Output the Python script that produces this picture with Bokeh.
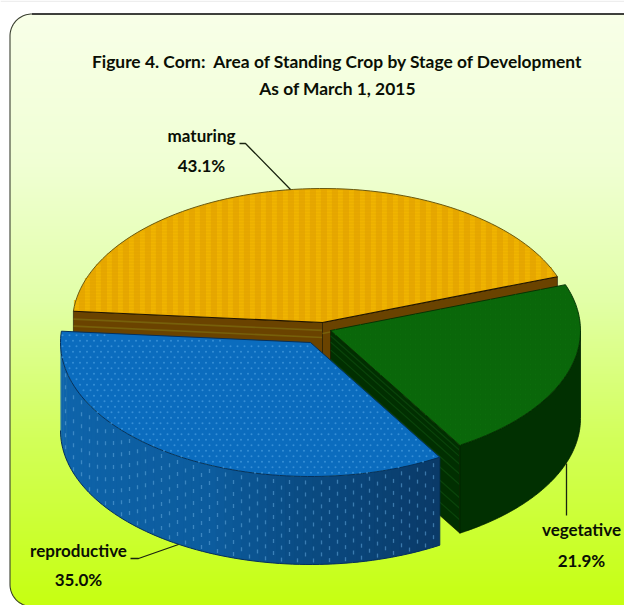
import numpy as np
from bokeh.plotting import figure
from bokeh.embed import file_html
from bokeh.resources import INLINE
from bokeh.core.properties import value

# Survey shares, in percent
stages = ["maturing", "reproductive", "vegetative"]
shares = [43.1, 35.0, 21.9]
title_lines = ["Figure 4. Corn:\u00a0 Area of Standing Crop by Stage of Development",
               "As of March 1, 2015"]

WIDTH, HEIGHT = 624, 605
FONT = value("Lato")

# Projection of the tilted disc, in page pixels (y grows downward)
RX, RY, DEPTH = 250.0, 134.0, 88.0
START_ANGLE = 20.0
CENTRES = {"maturing": (322.0, 322.0), "reproductive": (310.0, 342.0), "vegetative": (330.0, 330.0)}

p = figure(width=WIDTH, height=HEIGHT, x_range=(0, WIDTH), y_range=(HEIGHT, 0),
           output_backend="svg", toolbar_location=None, min_border=0,
           background_fill_color="white", border_fill_color="white")
p.axis.visible = False
p.grid.visible = False
p.outline_line_color = None


def lerp_colour(stops, t):
    ts = [s[0] for s in stops]
    rgb = [np.interp(t, ts, [int(s[1][i:i + 2], 16) for s in stops]) for i in (1, 3, 5)]
    return "#%02x%02x%02x" % tuple(int(round(c)) for c in rgb)


# Panel: rounded card with a vertical gradient
PANEL_L, PANEL_T, PANEL_B, RADIUS = 9.5, 13.5, 606.0, 22.0
GRADIENT = [(0.0, "#f8ffe8"), (0.25, "#f0ffd4"), (0.48, "#e2ffa8"), (0.72, "#d2ff58"), (1.0, "#c6ff10")]


def panel_left(y):
    d = np.maximum(PANEL_T + RADIUS - y, 0) + np.maximum(y - (PANEL_B - RADIUS), 0)
    return PANEL_L + RADIUS - np.sqrt(np.maximum(RADIUS ** 2 - d ** 2, 0))


rows = np.arange(PANEL_T, PANEL_B, 1.0)
p.quad(left=panel_left(rows + 0.5), right=WIDTH + 2, top=rows, bottom=rows + 1.6,
       fill_color=[lerp_colour(GRADIENT, (y - PANEL_T) / (PANEL_B - PANEL_T)) for y in rows],
       line_color=None)
arc_t = np.radians(np.linspace(180, 270, 24))
arc_b = np.radians(np.linspace(90, 180, 24))
p.line(np.concatenate([PANEL_L + RADIUS + RADIUS * np.cos(arc_b), PANEL_L + RADIUS + RADIUS * np.cos(arc_t)]),
       np.concatenate([PANEL_B - RADIUS + RADIUS * np.sin(arc_b), PANEL_T + RADIUS + RADIUS * np.sin(arc_t)]),
       line_color="#3a3f30", line_width=1.1)
p.line([PANEL_L + RADIUS, WIDTH + 2], [PANEL_T, PANEL_T], line_color="#000000", line_width=1.6)
p.quad(left=0, right=WIDTH, top=0, bottom=1.5, fill_color="#eeeeee", line_color=None)

# Slice angles follow from the shares
angles = {}
a = START_ANGLE
for stage, share in zip(stages, shares):
    angles[stage] = (a, a + share * 3.6)
    a += share * 3.6


def rim(stage, a0, a1, n=80):
    cx, cy = CENTRES[stage]
    t = np.radians(np.linspace(a0, a1, n))
    return cx + RX * np.cos(t), cy - RY * np.sin(t)


def top_polygon(stage):
    a0, a1 = angles[stage]
    x, y = rim(stage, a0, a1)
    cx, cy = CENTRES[stage]
    return np.r_[cx, x], np.r_[cy, y]


def inside(px, py, poly_x, poly_y):
    px, py = np.asarray(px), np.asarray(py)
    result = np.zeros(px.shape, bool)
    j = len(poly_x) - 1
    for i in range(len(poly_x)):
        crosses = (poly_y[i] > py) != (poly_y[j] > py)
        with np.errstate(divide="ignore", invalid="ignore"):
            xint = poly_x[i] + (py - poly_y[i]) * (poly_x[j] - poly_x[i]) / (poly_y[j] - poly_y[i])
        result ^= crosses & (px < xint)
        j = i
    return result


def spans(poly_x, poly_y, positions, axis):
    """Longest chord of the polygon along each vertical (axis=0) or horizontal (axis=1) line."""
    out = []
    a_pts, b_pts = (poly_x, poly_y) if axis == 0 else (poly_y, poly_x)
    for q in positions:
        hits = []
        for i in range(len(a_pts)):
            j = (i + 1) % len(a_pts)
            if (a_pts[i] - q) * (a_pts[j] - q) < 0:
                hits.append(b_pts[i] + (q - a_pts[i]) * (b_pts[j] - b_pts[i]) / (a_pts[j] - a_pts[i]))
        if len(hits) >= 2:
            out.append((q, min(hits), max(hits)))
    return out


def cut_face(stage, a_edge, base, stripe, stripe_fracs, stripe_width=1.6):
    """Flat radial side wall of a slice, with lengthwise bands."""
    cx, cy = CENTRES[stage]
    ex, ey = rim(stage, a_edge, a_edge, 1)
    ex, ey = ex[0], ey[0]
    p.patch([cx, ex, ex, cx], [cy, ey, ey + DEPTH, cy + DEPTH], fill_color=base, line_color="#1a1200", line_width=0.6)
    for f in stripe_fracs:
        p.line([cx, ex], [cy + f * DEPTH, ey + f * DEPTH], line_color=stripe, line_width=stripe_width)


# Maturing slice, furthest back
m0, m1 = angles["maturing"]
cut_face("maturing", m1, "#6a4300", "#77600a", [0.09, 0.17])
cut_face("maturing", m0, "#6a4300", "#77600a", [0.125])
mx, my = top_polygon("maturing")
p.patch(mx, my, fill_color="#e8a800", line_color=None)
col_pos = np.arange(mx.min() + 3, mx.max(), 11.0)
cols = spans(mx, my, col_pos, 0)
p.segment([c[0] for c in cols], [c[1] + 1 for c in cols], [c[0] for c in cols], [c[2] - 1 for c in cols],
          line_color="#f2b600", line_width=5, line_alpha=0.8)
row_pos = np.arange(my.min() + 1.5, my.max(), 3.0)
rws = spans(mx, my, row_pos, 1)
p.segment([r[1] + 1 for r in rws], [r[0] for r in rws], [r[2] - 1 for r in rws], [r[0] for r in rws],
          line_color="#d89c00", line_width=0.8, line_alpha=0.45)
p.line(mx[1:], my[1:], line_color="#6a5a10", line_width=1.0)
p.line([mx[-1], mx[0], mx[1]], [my[-1], my[0], my[1]], line_color="#1f1400", line_width=1.1)

# Vegetative slice, in front of the maturing one and behind the reproductive one
v0, v1 = angles["vegetative"]
cut_face("vegetative", v0, "#012f01", "#0a440a", [0.06, 0.13, 0.22, 0.33, 0.45, 0.6, 0.72, 0.85], 1.2)
wx, wy = rim("vegetative", v0, 360.0)
p.patch(np.r_[wx, wx[::-1]], np.r_[wy, wy[::-1] + DEPTH], fill_color="#013001", line_color="#002000", line_width=0.8)
vx, vy = top_polygon("vegetative")
p.patch(vx, vy, fill_color="#0a670a", line_color="#023002", line_width=0.9)
gx, gy = np.meshgrid(np.arange(vx.min(), vx.max(), 5.0), np.arange(vy.min(), vy.max(), 5.0))
keep = inside(gx, gy, vx, vy)
p.scatter(gx[keep], gy[keep], size=1.4, fill_color="#0e740e", line_color=None, fill_alpha=0.6)

# Reproductive slice, nearest the viewer: shaded outer wall with light flecks
r0, r1 = angles["reproductive"]
WALL_SHADE = [(0.0, "#0f66ae"), (0.55, "#0c5c9e"), (0.72, "#0a4c84"), (1.0, "#0a3a68")]
edges = np.linspace(180.0, r1, 60)
for k in range(len(edges) - 1):
    sx, sy = rim("reproductive", edges[k], min(edges[k + 1] + 0.6, r1), 6)
    p.patch(np.r_[sx, sx[::-1]], np.r_[sy, sy[::-1] + DEPTH],
            fill_color=lerp_colour(WALL_SHADE, k / (len(edges) - 2)), line_color=None)
bx, by = rim("reproductive", 180.0, r1)
p.line(bx, by + DEPTH, line_color="#06305a", line_width=1.0)
p.line([bx[-1], bx[-1]], [by[-1], by[-1] + DEPTH], line_color="#06305a", line_width=0.8)

col_x = np.arange(bx.min() + 5, bx.max(), 8.0)
fleck_x, fleck_y = [], []
for i, xq in enumerate(col_x):
    t = np.arccos(np.clip((xq - CENTRES["reproductive"][0]) / RX, -1, 1))
    top_edge = CENTRES["reproductive"][1] + RY * np.sin(t)
    offsets = np.arange(6 + (i % 2) * 6, DEPTH - 3, 12.0)
    fleck_x.extend([xq] * len(offsets))
    fleck_y.extend(top_edge + offsets)
fleck_x, fleck_y = np.array(fleck_x), np.array(fleck_y)
p.segment(fleck_x, fleck_y - 2, fleck_x, fleck_y + 2, line_color="#62a8dc", line_width=1.3, line_alpha=0.55)

tx, ty = top_polygon("reproductive")
p.patch(tx, ty, fill_color="#0b6cbe", line_color="#05305c", line_width=1.0)
gx, gy = np.meshgrid(np.arange(tx.min() + 2, tx.max(), 7.0), np.arange(ty.min() + 4, ty.max(), 5.5))
gx = gx + 3.5 * (np.arange(gx.shape[0])[:, None] % 2)
keep = inside(gx, gy, tx, ty) & inside(gx, gy - 2, tx, ty)
p.scatter(gx[keep], gy[keep], size=2.0, fill_color="#4da2e4", line_color=None, fill_alpha=0.65)

# Leader lines from the labels to the slices
for xs, ys in (([239, 245, 290], [143, 143, 189]),
               ([566, 566], [463, 515]),
               ([130, 138, 178], [558, 558, 544])):
    p.line(xs, ys, line_color="#1a2410", line_width=1.3)

# Title and slice labels
p.text([337, 337], [61, 88], text=title_lines, text_font=FONT, text_font_style="bold",
       text_font_size="17.4px", text_color="#0a0f05", text_align="center", text_baseline="middle")
label_anchor = {"maturing": (201, 135, 165), "reproductive": (78, 550, 579), "vegetative": (581, 529, 560)}
for stage, share in zip(stages, shares):
    lx, y1, y2 = label_anchor[stage]
    p.text([lx, lx], [y1, y2], text=[stage, f"{share:.1f}%"], text_font=FONT, text_font_style="bold",
           text_font_size="17px", text_color="#0a0f05", text_align="center", text_baseline="middle")

open("out.html", "w").write(file_html(p, INLINE))
